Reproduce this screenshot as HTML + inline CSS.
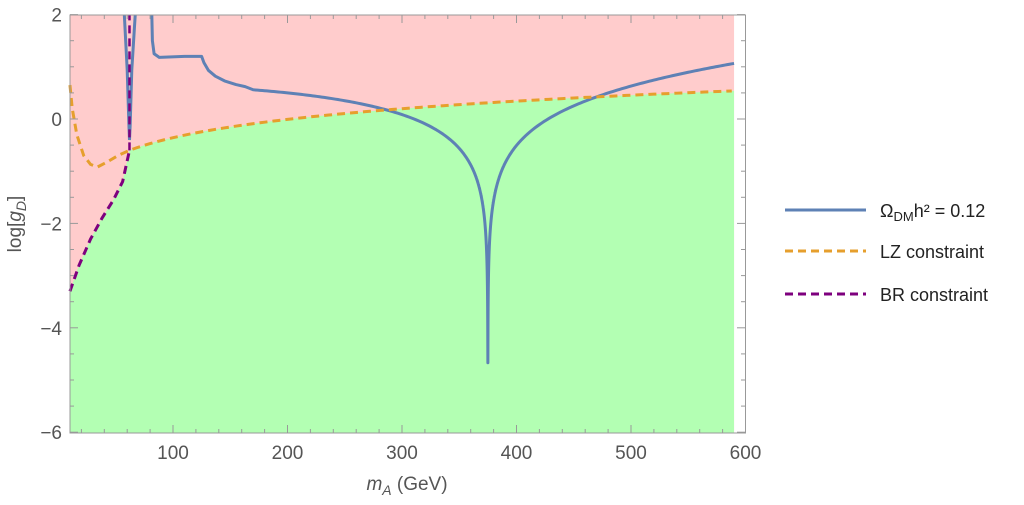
<!DOCTYPE html>
<html><head><meta charset="utf-8"><style>
body{margin:0;background:#fff;}
svg{display:block;font-family:"Liberation Sans",sans-serif;}
</style></head><body>
<svg id="s" width="1024" height="505" viewBox="0 0 1024 505"></svg>
<script>
const X=m=>173+(m-100)*1.145, Y=v=>119-v*52.2;
const s=document.getElementById('s');
let h='';
function lz(m){ return 1.164*Math.log10(m)-2.686;}
const lzLeft=[[10,0.65],[12,0.2],[16,-0.3],[22,-0.7],[28,-0.87],[34,-0.92],[42,-0.83],[52,-0.7],[62,-0.6]];
const br=[[10,-3.3],[18,-2.8],[28,-2.3],[38,-1.9],[48,-1.55],[56,-1.2],[62,-0.6]];
h+=`<rect x="70" y="15" width="${X(590)-70}" height="418" fill="#ffcccc"/>`;
let g='M70,433 ';
br.forEach(p=>g+=`L${X(p[0])},${Y(p[1])} `);
for(let m=62;m<=590;m+=4)g+=`L${X(m)},${Y(lz(m))} `;
g+=`L${X(590)},${Y(lz(590))} L${X(590)},433 Z`;
h+=`<path d="${g}" fill="#b3ffb3"/>`;
function bl(m){const d=m*m-375*375;const L=0.5*Math.log10(d*d+900);return 1.479*L-6.95+0.000256*m;}
let ms=[];for(let m=170;m<=590;m+=2)ms.push(m);for(let m=360;m<=390;m+=0.05)ms.push(m);ms.sort((a,c)=>a-c);
let b='M'+X(81.5)+',15 L'+X(82)+','+Y(1.5)+' L'+X(83.5)+','+Y(1.25)+' L'+X(88)+','+Y(1.18)+' L'+X(110)+','+Y(1.2)+' L'+X(125)+','+Y(1.2)+' L'+X(127)+','+Y(1.08)+' L'+X(131)+','+Y(0.93)+' L'+X(137)+','+Y(0.82)+' L'+X(145)+','+Y(0.73)+' L'+X(155)+','+Y(0.66)+' L'+X(163)+','+Y(0.62)+' ';
ms.forEach(m=>b+=`L${X(m).toFixed(2)},${Y(bl(m)).toFixed(2)} `);
h+=`<path d="${b}" fill="none" stroke="#5e81b5" stroke-width="3" stroke-linejoin="round"/>`;
h+=`<path d="M${X(57.5)},15 L${X(60)},70 L${X(61.5)},125 L${X(62)},140 L${X(62.6)},125 L${X(64)},70 L${X(67)},15" fill="none" stroke="#5e81b5" stroke-width="3"/>`;
let o='M'+lzLeft.map(p=>X(p[0])+','+Y(p[1])).join(' L');
for(let m=64;m<=590;m+=4)o+=` L${X(m)},${Y(lz(m))}`;
h+=`<path d="${o}" fill="none" stroke="#e69f2d" stroke-width="3" stroke-dasharray="8,5"/>`;
let p='M'+br.map(q=>X(q[0])+','+Y(q[1])).join(' L');
h+=`<path d="${p}" fill="none" stroke="#7e007e" stroke-width="3" stroke-dasharray="8,5"/>`;
h+=`<path d="M${X(62)},${Y(-0.6)} L${X(62)},15" fill="none" stroke="#7e007e" stroke-width="2.5" stroke-dasharray="8,5"/>`;
h+=`<rect x="70" y="15" width="675.5" height="418" fill="none" stroke="#999" stroke-width="1"/>`;
for(let m=20;m<=600;m+=20){const x=X(m);const L=(m%100==0)?8:4;
h+=`<line x1="${x}" y1="433" x2="${x}" y2="${433-L}" stroke="#999"/><line x1="${x}" y1="15" x2="${x}" y2="${15+L}" stroke="#999"/>`;
if(m%100==0)h+=`<text x="${x}" y="459" font-size="19" fill="#555" text-anchor="middle">${m}</text>`;}
for(let v=-6;v<=2;v+=0.5){const y=Y(v);const L=(v%2==0)?8:4;
h+=`<line x1="70" y1="${y}" x2="${70+L}" y2="${y}" stroke="#999"/><line x1="745" y1="${y}" x2="${745-L}" y2="${y}" stroke="#999"/>`;
if(v%2==0)h+=`<text x="62" y="${y+7}" font-size="19" fill="#555" text-anchor="end">${v<0?'−'+(-v):v}</text>`;}
h+=`<text x="407" y="490" font-size="19" fill="#555" text-anchor="middle"><tspan font-style="italic">m</tspan><tspan font-style="italic" font-size="14" dy="5">A</tspan><tspan dy="-5"> (GeV)</tspan></text>`;
h+=`<text transform="translate(21,224) rotate(-90)" font-size="19" fill="#555" text-anchor="middle">log[<tspan font-style="italic">g</tspan><tspan font-style="italic" font-size="14" dy="5">D</tspan><tspan dy="-5">]</tspan></text>`;
h+=`<line x1="785" y1="210" x2="866" y2="210" stroke="#5e81b5" stroke-width="3"/>`;
h+=`<text x="880" y="217" font-size="18" fill="#222">Ω<tspan font-size="13" dy="4">DM</tspan><tspan dy="-4">h² = 0.12</tspan></text>`;
h+=`<line x1="785" y1="251" x2="866" y2="251" stroke="#e69f2d" stroke-width="3" stroke-dasharray="8,5"/>`;
h+=`<text x="880" y="258" font-size="18" fill="#222">LZ constraint</text>`;
h+=`<line x1="785" y1="294" x2="866" y2="294" stroke="#7e007e" stroke-width="3" stroke-dasharray="8,5"/>`;
h+=`<text x="880" y="301" font-size="18" fill="#222">BR constraint</text>`;
s.innerHTML=h;
</script>
</body></html>
